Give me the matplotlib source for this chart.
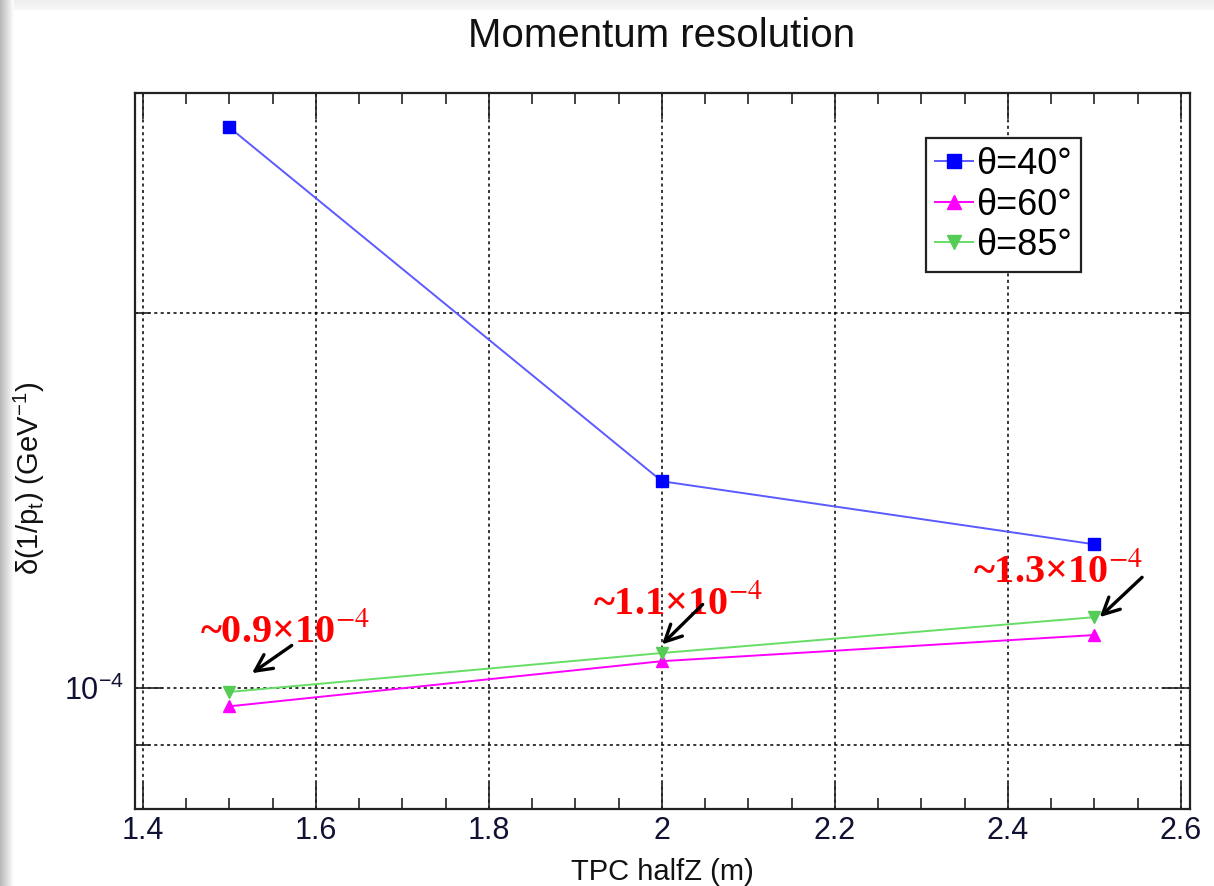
import numpy as np
import matplotlib
matplotlib.use('Agg')
import matplotlib.pyplot as plt
from matplotlib.ticker import MultipleLocator, NullFormatter

plt.rcParams['font.family'] = ['Liberation Sans', 'DejaVu Sans']
plt.rcParams['mathtext.fontset'] = 'custom'
plt.rcParams['mathtext.rm'] = 'Liberation Sans'
plt.rcParams['mathtext.it'] = 'Liberation Sans'

# TPC half length (m)
halfz = [1.5, 2.0, 2.5]
# delta(1/pt) in GeV^-1
res_40 = [2.815e-4, 1.465e-4, 1.304e-4]
res_60 = [0.967e-4, 1.051e-4, 1.103e-4]
res_85 = [0.993e-4, 1.067e-4, 1.140e-4]

labels = ['θ=40°', 'θ=60°', 'θ=85°']

# red annotations: text, text position, arrow tail, arrow head
note_text = ['~0.9×10$^{-4}$', '~1.1×10$^{-4}$', '~1.3×10$^{-4}$']
note_xy = [(1.564, 1.109e-4), (2.0185, 1.167e-4), (2.458, 1.238e-4)]
arrow_tail = [(1.572, 1.082e-4), (2.047, 1.167e-4), (2.555, 1.227e-4)]
arrow_head = [(1.526, 1.028e-4), (2.000, 1.084e-4), (2.506, 1.140e-4)]

fig = plt.figure(figsize=(12.14, 8.86), dpi=100)

# slide shadow on the left and top edges
sh = fig.add_axes([0, 0, 14 / 1214, 1])
sh.imshow(np.linspace(0.72, 1.0, 64)[None, :], cmap='gray', vmin=0, vmax=1,
          aspect='auto', extent=[0, 1, 0, 1])
sh.axis('off')
top = fig.add_axes([14 / 1214, 1 - 10 / 886, 1 - 14 / 1214, 10 / 886])
top.imshow(np.linspace(0.93, 0.97, 16)[:, None], cmap='gray', vmin=0, vmax=1,
           aspect='auto', extent=[0, 1, 0, 1])
top.axis('off')

ax = fig.add_axes([135 / 1214, 1 - 809 / 886, 1055 / 1214, 716 / 886])

ax.plot(halfz, res_40, color='#5a5aff', lw=1.4, marker='s', ms=9,
        mfc='#0000ff', mec='#0000ff', label=labels[0])
ax.plot(halfz, res_60, color='#ff00ff', lw=1.4, marker='^', ms=9,
        mfc='#ff00ff', mec='#ff00ff', label=labels[1])
ax.plot(halfz, res_85, color='#66dd66', lw=1.4, marker='v', ms=9,
        mfc='#55cc55', mec='#55cc55', label=labels[2])

ax.set_yscale('log')
ax.set_xlim(1.3908, 2.6104)
ax.set_ylim(8e-5, 3e-4)

ax.xaxis.set_minor_locator(MultipleLocator(0.05))
ax.set_xticks([1.4, 1.6, 1.8, 2.0, 2.2, 2.4, 2.6])
ax.set_xticklabels(['1.4', '1.6', '1.8', '2', '2.2', '2.4', '2.6'])
ax.set_yticks([1e-4])
ax.set_yticklabels([r'$10^{-4}$'])
ax.set_yticks([8e-5, 9e-5, 2e-4, 3e-4], minor=True)
ax.yaxis.set_minor_formatter(NullFormatter())

ax.tick_params(axis='both', which='both', direction='in', top=True, right=True,
               width=1.2, colors='#222222', labelcolor='#111133')
ax.tick_params(axis='x', which='major', length=19, labelsize=22, pad=5)
ax.tick_params(axis='x', which='minor', length=8)
ax.tick_params(axis='y', which='major', length=20, labelsize=22, pad=8)
ax.tick_params(axis='y', which='minor', length=11)

ax.xaxis.grid(True, which='major', color='black', ls=(0, (2, 2.2)), lw=1.1)
ax.yaxis.grid(True, which='both', color='black', ls=(0, (2, 2.2)), lw=1.1)

for s in ax.spines.values():
    s.set_linewidth(1.6)
    s.set_color('#222222')

ax.set_xlabel('TPC halfZ (m)', fontsize=21, color='#111111')
ax.xaxis.set_label_coords(0.4995, -0.068)
ax.set_ylabel(r'$\delta$(1/p$_{t}$) (GeV$^{-1}$)', fontsize=21, color='#111111')
ax.yaxis.set_label_coords(-0.083, 0.462)

fig.text(662 / 1214, 1 - 36 / 886, 'Momentum resolution', fontsize=29,
         ha='center', va='center', color='#111111')

leg = ax.legend(loc='upper left', bbox_to_anchor=(0.7498, 0.937), fontsize=26,
                frameon=True, fancybox=False, edgecolor='#222222', framealpha=1,
                borderaxespad=0, handlelength=1.05, handletextpad=0.1,
                labelspacing=0.15, borderpad=0.25, markerscale=1.15)
leg.get_frame().set_linewidth(1.6)

for t, pos in zip(note_text, note_xy):
    ax.text(pos[0], pos[1], t, color='red', fontsize=29, ha='center',
            va='center', family='Liberation Serif', weight='bold',
            math_fontfamily='stix')
for tail, head in zip(arrow_tail, arrow_head):
    ax.annotate('', xy=head, xytext=tail,
                arrowprops=dict(arrowstyle='->', color='black', lw=2.4,
                                mutation_scale=30, shrinkA=0, shrinkB=0))

fig.savefig('out.png', dpi=100)
